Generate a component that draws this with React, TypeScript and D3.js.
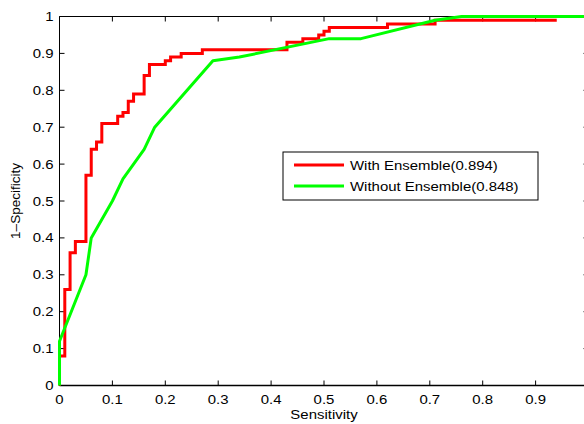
import React from "react";
import * as d3 from "d3";

const redFpr = [0, 0, 0.01, 0.02, 0.03, 0.05, 0.06, 0.07, 0.08, 0.11, 0.12, 0.13, 0.14, 0.16, 0.17, 0.2, 0.21, 0.23, 0.27, 0.43, 0.46, 0.49, 0.5, 0.51, 0.62, 0.71, 0.94];
const redTpr = [0, 0.08, 0.26, 0.36, 0.39, 0.57, 0.64, 0.66, 0.71, 0.73, 0.74, 0.77, 0.79, 0.84, 0.87, 0.88, 0.89, 0.9, 0.91, 0.93, 0.94, 0.95, 0.96, 0.97, 0.98, 0.99, 0.99];
const greenFpr = [0, 0, 0.05, 0.06, 0.1, 0.12, 0.16, 0.18, 0.29, 0.34, 0.51, 0.57, 0.71, 0.76, 1];
const greenTpr = [0, 0.12, 0.3, 0.4, 0.5, 0.56, 0.64, 0.7, 0.88, 0.89, 0.94, 0.94, 0.99, 1, 1];
const tickValues = [0, 0.1, 0.2, 0.3, 0.4, 0.5, 0.6, 0.7, 0.8, 0.9, 1];
const tickLabels = ["0", "0.1", "0.2", "0.3", "0.4", "0.5", "0.6", "0.7", "0.8", "0.9", "1"];
const xLabelValues = [0, 0.1, 0.2, 0.3, 0.4, 0.5, 0.6, 0.7, 0.8, 0.9];
const seriesNames = ["With Ensemble(0.894)", "Without Ensemble(0.848)"];
const seriesColors = ["#ff0000", "#00ff00"];
const xTitle = "Sensitivity";
const yTitle = "1\u2013Specificity";

const W = 584, H = 424;
const L = 59.5, R = 588.5, T = 16.5, B = 385.5;
const FONT = "'Liberation Sans', Arial, Helvetica, sans-serif";
const SX = 1.15;

export default function App() {
  const x = d3.scaleLinear().domain([0, 1]).range([L, R]);
  const y = d3.scaleLinear().domain([0, 1]).range([B, T]);
  const step = d3.line<number>().x((_, i) => x(redFpr[i])).y((_, i) => y(redTpr[i])).curve(d3.curveStepAfter);
  const lin = d3.line<number>().x((_, i) => x(greenFpr[i])).y((_, i) => y(greenTpr[i]));
  const redPath = step(redFpr) || "";
  const greenPath = lin(greenFpr) || "";
  const tl = 5;
  const txt = (s: string, tx: number, ty: number, anchor: string, key?: any, size = 13) => (
    <text key={key} transform={`translate(${tx},${ty}) scale(${SX},1)`} textAnchor={anchor} fontFamily={FONT} fontSize={size} fill="#000">{s}</text>
  );
  return (
    <svg width={W} height={H} style={{ position: "absolute", left: 0, top: 0, background: "#fff" }}>
      <rect x={0} y={0} width={W} height={H} fill="#fff" />
      <g stroke="#000" strokeWidth={1} fill="none">
        <line x1={L} x2={R} y1={T} y2={T} />
        <line x1={L} x2={R} y1={B} y2={B} strokeWidth={1.5} />
        <line x1={L} x2={L} y1={T} y2={B} />
        <line x1={R} x2={R} y1={T} y2={B} />
        {tickValues.map((v, i) => (
          <g key={i}>
            <line x1={x(v)} x2={x(v)} y1={B} y2={B - tl} />
            <line x1={x(v)} x2={x(v)} y1={T} y2={T + tl} />
            <line x1={L} x2={L + tl} y1={y(v)} y2={y(v)} />
            <line x1={R} x2={R - tl} y1={y(v)} y2={y(v)} />
          </g>
        ))}
      </g>
      {xLabelValues.map((v, i) => txt(tickLabels[i], x(v), 404, "middle", "x" + i))}
      {tickValues.map((v, i) => txt(tickLabels[i], 53.5, y(v) + 4.5, "end", "y" + i))}
      {txt(xTitle, (L + R) / 2, 419, "middle", "xt")}
      <text transform={`translate(19.5,${(T + B) / 2}) rotate(-90)`} textAnchor="middle" fontFamily={FONT} fontSize={13.5}>{yTitle}</text>
      <path d={redPath} fill="none" stroke={seriesColors[0]} strokeWidth={3} strokeLinejoin="miter" />
      <path d={greenPath} fill="none" stroke={seriesColors[1]} strokeWidth={3} strokeLinejoin="round" />
      <g>
        <rect x={283} y={152} width={255} height={48} fill="#fff" stroke="#000" strokeWidth={1} />
        {seriesNames.map((n, i) => (
          <g key={n}>
            <line x1={294} x2={344} y1={165 + i * 21} y2={165 + i * 21} stroke={seriesColors[i]} strokeWidth={3} />
            {txt(n, 350, 169.5 + i * 21, "start", "l" + i)}
          </g>
        ))}
      </g>
    </svg>
  );
}
